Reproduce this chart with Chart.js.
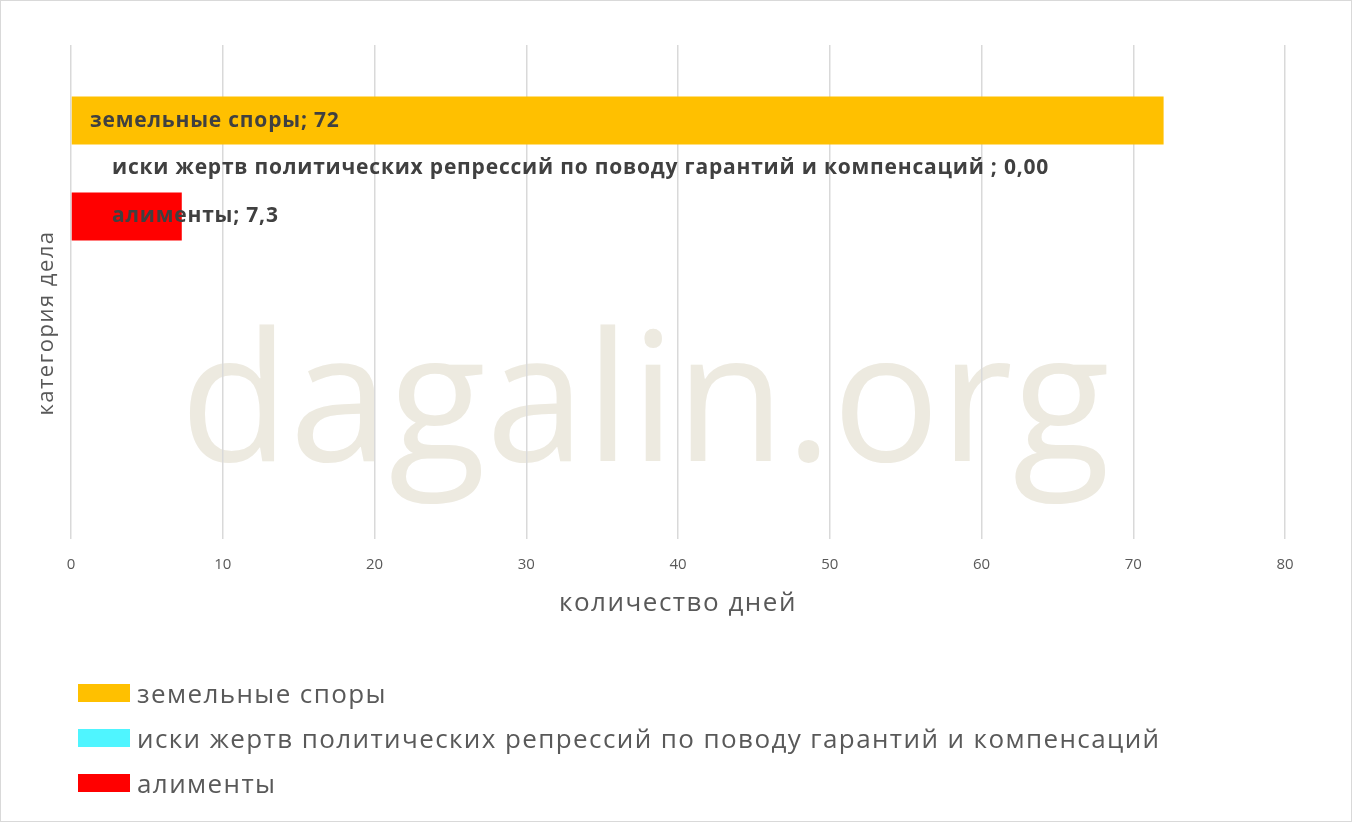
<!DOCTYPE html>
<html lang="ru">
<head>
    <meta charset="UTF-8">
    <title>Сроки рассмотрения дел</title>
    <script src="https://cdn.jsdelivr.net/npm/chart.js@4.4.0/dist/chart.umd.min.js"></script>
    <style>
        html, body {
            margin: 0;
            padding: 0;
            background: #fff;
        }
        .wrap {
            position: relative;
            width: 1350px;
            height: 820px;
            border: 1px solid #d9d9d9;
        }
        #legend {
            position: absolute;
            left: 77px;
            top: 669px;
            font-family: "Open Sans", sans-serif;
            font-size: 26px;
            letter-spacing: 1.4px;
            color: #595959;
        }
        .item {
            display: flex;
            align-items: center;
            height: 45px;
        }
        .box {
            width: 52px;
            height: 18px;
            margin-right: 7px;
        }
    </style>
</head>
<body>
    <div class="wrap">
        <canvas id="chart" width="1350" height="820"></canvas>
        <div id="legend"></div>
    </div>
    <script>
        // данные
        var categories = ['', ''];
        var seriesNames = ['земельные споры', 'иски жертв политических репрессий по поводу гарантий и компенсаций ', 'алименты'];
        var seriesValues = [72, 0, 7.3];
        var valueTexts = ['72', '0,00', '7,3'];
        var seriesColors = ['#FFC000', '#4FF5FF', '#FF0000'];
        var xTicks = [0, 10, 20, 30, 40, 50, 60, 70, 80];
        var xTitle = 'количество дней';
        var yTitle = 'категория дела';

        var FONT = '"Open Sans", sans-serif';

        var watermark = {
            id: 'watermark',
            beforeDraw: function (chart) {
                var c = chart.ctx;
                c.save();
                c.font = '200px ' + FONT;
                var w = c.measureText('dagalin.org').width;
                var size = 200 * 930 / w;
                c.font = size + 'px ' + FONT;
                c.fillStyle = '#EDEAE0';
                c.textAlign = 'center';
                c.textBaseline = 'alphabetic';
                c.fillText('dagalin.org', 644, 460);
                c.restore();
            }
        };

        // подписи столбцов и названия осей (с разрядкой, как в оригинале)
        var labelsPlugin = {
            id: 'labelsPlugin',
            afterDatasetsDraw: function (chart) {
                var c = chart.ctx;
                c.save();
                c.letterSpacing = '0.8px';
                c.font = 'bold 21px ' + FONT;
                c.fillStyle = '#404040';
                c.textBaseline = 'middle';
                chart.data.datasets.forEach(function (ds, i) {
                    var bar = chart.getDatasetMeta(i).data[0];
                    var shift = i === 0 ? 19 : 41;
                    c.fillText(ds.label + '; ' + valueTexts[i], chart.chartArea.left + shift, bar.y);
                });
                c.restore();
            },
            afterDraw: function (chart) {
                var c = chart.ctx;
                var area = chart.chartArea;
                c.save();
                c.letterSpacing = '1.5px';
                c.fillStyle = '#595959';
                c.textAlign = 'center';
                c.textBaseline = 'middle';
                c.font = '26px ' + FONT;
                c.fillText(xTitle, (area.left + area.right) / 2, area.bottom + 65);
                c.font = '22px ' + FONT;
                c.translate(46, 322);
                c.rotate(-Math.PI / 2);
                c.fillText(yTitle, 0, 0);
                c.restore();
            }
        };

        var datasets = seriesNames.map(function (name, i) {
            return {
                label: name,
                data: [seriesValues[i], null],
                backgroundColor: seriesColors[i],
                categoryPercentage: 0.582,
                barPercentage: 1
            };
        });

        var chart = new Chart(document.getElementById('chart'), {
            type: 'bar',
            data: { labels: categories, datasets: datasets },
            plugins: [watermark, labelsPlugin],
            options: {
                responsive: false,
                animation: false,
                indexAxis: 'y',
                layout: { padding: { top: 44, right: 66, bottom: 230, left: 62 } },
                plugins: {
                    legend: { display: false },
                    tooltip: { enabled: false }
                },
                scales: {
                    x: {
                        min: 0,
                        max: 80,
                        afterBuildTicks: function (axis) {
                            axis.ticks = xTicks.map(function (v) { return { value: v }; });
                        },
                        grid: { color: '#d9d9d9', lineWidth: 1.5, drawTicks: false },
                        border: { display: false },
                        ticks: {
                            padding: 17,
                            color: '#595959',
                            font: { family: FONT, size: 15 }
                        }
                    },
                    y: {
                        grid: { display: false },
                        border: { display: false },
                        ticks: { display: false }
                    }
                }
            }
        });

        var legend = document.getElementById('legend');
        seriesNames.forEach(function (name, i) {
            var row = document.createElement('div');
            row.className = 'item';
            var box = document.createElement('span');
            box.className = 'box';
            box.style.background = seriesColors[i];
            var txt = document.createElement('span');
            txt.textContent = name;
            row.appendChild(box);
            row.appendChild(txt);
            legend.appendChild(row);
        });
    </script>
</body>
</html>
